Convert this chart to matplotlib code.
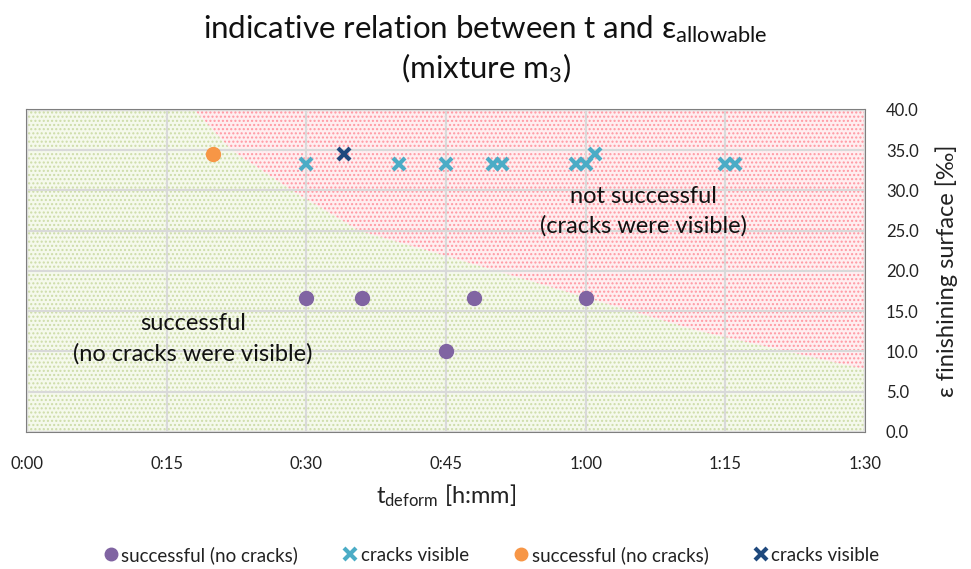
import matplotlib
matplotlib.use("Agg")
import matplotlib.pyplot as plt
from matplotlib.lines import Line2D

plt.rcParams['font.family'] = ['Lato', 'DejaVu Sans']
plt.rcParams['mathtext.fontset'] = 'custom'
plt.rcParams['mathtext.rm'] = 'Lato'
plt.rcParams['mathtext.it'] = 'Lato:italic'
plt.rcParams['mathtext.bf'] = 'Lato:bold'
plt.rcParams['hatch.linewidth'] = 1.0

# ---- data (time in minutes, strain in permille) ----
succ_t = [30, 36, 45, 48, 60]
succ_eps = [16.7, 16.7, 10.0, 16.7, 16.7]

crack_t = [30, 40, 45, 50, 51, 59, 60, 61, 75, 76]
crack_eps = [33.3, 33.3, 33.3, 33.3, 33.3, 33.3, 33.3, 34.5, 33.3, 33.3]

succ2_t = [20]
succ2_eps = [34.5]

crack2_t = [34]
crack2_eps = [34.5]

# indicative boundary between the two zones
boundary_t = [0, 18, 22, 28.5, 35.7, 42, 54, 72, 90]
boundary_eps = [40, 40, 35, 30, 25, 22.9, 18.8, 12.6, 7.8]

x_ticks = [0, 15, 30, 45, 60, 75, 90]
x_tick_labels = ['0:00', '0:15', '0:30', '0:45', '1:00', '1:15', '1:30']
y_ticks = [0, 5, 10, 15, 20, 25, 30, 35, 40]
y_tick_labels = ['0.0', '5.0', '10.0', '15.0', '20.0', '25.0', '30.0', '35.0', '40.0']

legend_labels = ['successful (no cracks)', 'cracks visible',
                 'successful (no cracks)', 'cracks visible']

c_purple = '#8064a2'
c_light = '#4bacc6'
c_orange = '#f79646'
c_dark = '#1f497d'

fig = plt.figure(figsize=(9.71, 5.69), dpi=100)
ax = fig.add_axes([0.0278, 0.2408, 0.8630, 0.5659])

ax.set_xlim(0, 90)
ax.set_ylim(0, 40)

# zones
ax.fill_between(boundary_t, 0, boundary_eps, facecolor='#f5f9ec',
                edgecolor='#cddca8', hatch='....', linewidth=0, zorder=0)
ax.fill_between(boundary_t, boundary_eps, 40, facecolor='#ffeef0',
                edgecolor='#ff98a2', hatch='....', linewidth=0, zorder=0)

ax.grid(True, color='#d9d9d9', linewidth=1.5, zorder=1)
ax.set_axisbelow(False)

ax.plot(succ_t, succ_eps, 'o', color=c_purple, markersize=10, zorder=3, linestyle='none')
ax.plot(crack_t, crack_eps, 'x', color=c_light, markersize=9, markeredgewidth=3, zorder=3, linestyle='none')
ax.plot(succ2_t, succ2_eps, 'o', color=c_orange, markersize=10, zorder=3, linestyle='none')
ax.plot(crack2_t, crack2_eps, 'x', color=c_dark, markersize=9, markeredgewidth=3, zorder=3, linestyle='none')

ax.set_xticks(x_ticks)
ax.set_xticklabels(x_tick_labels)
ax.set_yticks(y_ticks)
ax.set_yticklabels(y_tick_labels)
ax.yaxis.tick_right()
ax.yaxis.set_label_position('right')
ax.tick_params(axis='both', length=0, labelsize=12, labelcolor='#222222')
ax.tick_params(axis='x', pad=17)
ax.tick_params(axis='y', pad=15)
for lab in ax.get_yticklabels():
    lab.set_horizontalalignment('left')

for s in ax.spines.values():
    s.set_color('#7f7f7f')
    s.set_linewidth(1.5)

ax.set_xlabel(r't$_{\mathrm{deform}}$ [h:mm]', fontsize=17, labelpad=8, color='#222222')
ax.set_ylabel('ε finishining surface [‰]', fontsize=17, labelpad=12, color='#222222')

ax.text(17.8, 11.6, 'successful\n(no cracks were visible)', ha='center', va='center',
        fontsize=17, linespacing=1.5, zorder=4, color='#111111')
ax.text(66.2, 27.4, 'not successful\n(cracks were visible)', ha='center', va='center',
        fontsize=17, linespacing=1.5, zorder=4, color='#111111')

fig.text(0.5, 0.948, r'indicative relation between t and ε$_{\mathrm{allowable}}$',
         ha='center', va='center', fontsize=22.5, color='#111111')
fig.text(0.5, 0.88, r'(mixture m$_{3}$)', ha='center', va='center', fontsize=22.5, color='#111111')

handles = [
    Line2D([], [], marker='o', color=c_purple, linestyle='none', markersize=9),
    Line2D([], [], marker='x', color=c_light, linestyle='none', markersize=8, markeredgewidth=3),
    Line2D([], [], marker='o', color=c_orange, linestyle='none', markersize=9),
    Line2D([], [], marker='x', color=c_dark, linestyle='none', markersize=8, markeredgewidth=3),
]
fig.legend(handles, legend_labels, loc='center', bbox_to_anchor=(0.505, 0.025), ncol=4,
           frameon=False, fontsize=13.5, handletextpad=0.05, columnspacing=2.3,
           handlelength=1.0, labelcolor='#222222')

fig.savefig('out.png', dpi=100)
